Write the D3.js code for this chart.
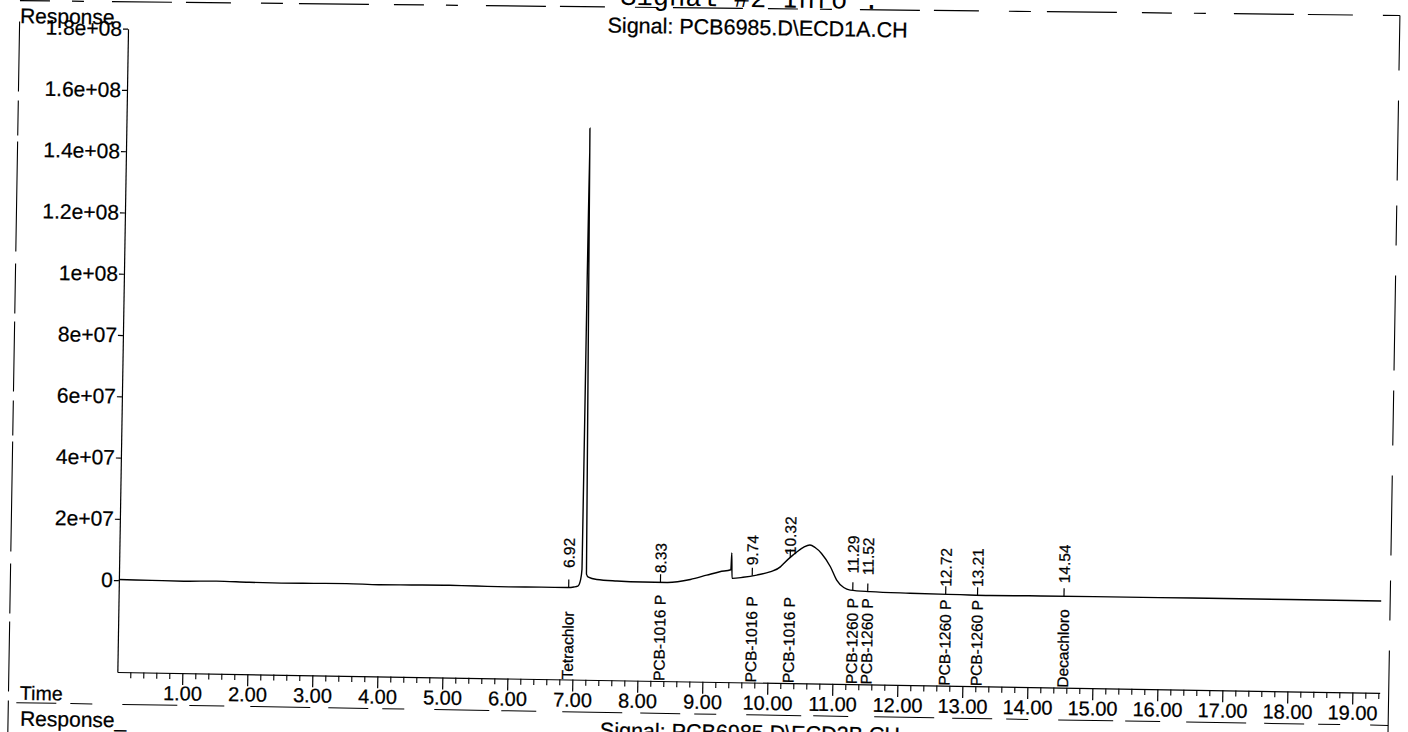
<!DOCTYPE html>
<html><head><meta charset="utf-8">
<script src="https://cdn.jsdelivr.net/npm/d3@7"></script>
<style>
html,body{margin:0;padding:0;background:#fff;overflow:hidden;}
svg{display:block;background:#fff;}
text{font-family:"Liberation Sans", Arial, sans-serif; fill:#000; stroke:#000; stroke-width:0.25px;}
</style></head><body>
<svg id="chart" width="1408" height="732"></svg>
<script>
// ---- data ----
const timeTicks = [1,2,3,4,5,6,7,8,9,10,11,12,13,14,15,16,17,18,19];
const timeTickLabels = ["1.00","2.00","3.00","4.00","5.00","6.00","7.00","8.00","9.00","10.00","11.00","12.00","13.00","14.00","15.00","16.00","17.00","18.00","19.00"];
const responseTicks = [0, 2e7, 4e7, 6e7, 8e7, 1e8, 1.2e8, 1.4e8, 1.6e8, 1.8e8];
const responseTickLabels = ["0","2e+07","4e+07","6e+07","8e+07","1e+08","1.2e+08","1.4e+08","1.6e+08","1.8e+08"];

const sigTime = [0.00,0.50,1.00,1.50,2.00,2.50,3.00,3.50,4.00,4.50,
  5.00,5.50,6.00,6.50,6.90,7.00,7.06,7.10,7.12,7.13,
  7.19,7.22,7.35,7.66,8.06,8.43,8.79,9.04,9.24,9.41,
  9.42,9.43,9.60,9.81,10.01,10.17,10.21,10.36,10.52,10.62,
  10.70,10.80,10.94,11.04,11.15,11.25,11.56,12.17,12.94,13.40,
  14.00,15.00,16.00,17.00,18.00,19.42];
const sigResp = [2e5,1e5,0,2e5,0,-1e5,0,1e5,-1e5,0,
  1e5,0,-1e5,0,0,2e5,5e5,2.5e6,6.0e6,1.50e8,
  4.5e6,3.5e6,2.8e6,2.4e6,2.2e6,2.2e6,3.3e6,4.8e6,6.0e6,6.7e6,
  1.22e7,3.9e6,4.3e6,5.1e6,6.2e6,7.9e6,8.8e6,1.18e7,1.44e7,1.52e7,
  1.44e7,1.25e7,8.2e6,3.9e6,1.5e6,7e5,3e5,0,-2e5,-3e5,
  -2e5,-1e5,-1e5,0,0,0];

const peakTimes = [6.92, 8.33, 9.74, 10.32, 11.29, 11.52, 12.72, 13.21, 14.54];
const peakRtLabels = ["6.92","8.33","9.74","10.32","11.29","11.52","12.72","13.21","14.54"];
const peakNames = ["Tetrachlor","PCB-1016 P","PCB-1016 P","PCB-1016 P","PCB-1260 P","PCB-1260 P","PCB-1260 P","PCB-1260 P","Decachloro"];
const peakLabelLevel = [6.4e6, 5.2e6, 8.3e6, 1.18e7, 6.2e6, 5.7e6, 2.3e6, 2.4e6, 4.1e6];

const titleTop = "Signal #2 Info :";
const titleSignal = "Signal: PCB6985.D\\ECD1A.CH";
const titleSignalNext = "Signal: PCB6985.D\\ECD2B.CH";

// ---- drawing ----
const svg = d3.select("#chart");
const g = svg.append("g").attr("transform", "rotate(0.95,704,366)");

const x = d3.scaleLinear().domain([0, 19.42]).range([122.5, 1385]);
const y = d3.scaleLinear().domain([-3e7, 1.8e8]).range([681.7, 38.3]);

// frame dashes
g.append("line").attr("x1", 14).attr("y1", 12).attr("x2", 1394).attr("y2", 4)
  .attr("stroke", "#000").attr("stroke-width", 1.2)
  .attr("stroke-dasharray", "30,22,12,28,60,14,45,30,22,16,70,25");
g.append("line").attr("x1", 14).attr("y1", 33).attr("x2", 14).attr("y2", 750)
  .attr("stroke", "#000").attr("stroke-width", 1.1)
  .attr("stroke-dasharray", "70,9,35,6,110,12,50,8");
g.append("line").attr("x1", 1394).attr("y1", 4).attr("x2", 1394).attr("y2", 750)
  .attr("stroke", "#000").attr("stroke-width", 1.1)
  .attr("stroke-dasharray", "55,30,80,25,40,30,95,20");
g.append("line").attr("x1", 22).attr("y1", 714).attr("x2", 1394).attr("y2", 714)
  .attr("stroke", "#000").attr("stroke-width", 1)
  .attr("stroke-dasharray", "40,14,22,30,55,12,35,26,60,18");

// texts
g.append("text").attr("x", 744).attr("y", 6.2).attr("text-anchor", "middle")
  .style("font-family", "'Liberation Mono', 'DejaVu Sans Mono', monospace")
  .style("font-size", "27px").style("stroke-width", "0px").text(titleTop);
g.append("text").attr("x", 752).attr("y", 34.1).attr("text-anchor", "middle")
  .style("font-size", "21.5px").text(titleSignal);
g.append("text").attr("x", 14.3).attr("y", 34.3).style("font-size", "21px").text("Response");
g.append("text").attr("x", 25.5).attr("y", 711).style("font-size", "19.5px").text("Time");
g.append("text").attr("x", 26).attr("y", 737).style("font-size", "21px").text("Response_");
g.append("text").attr("x", 756).attr("y", 739.2).attr("text-anchor", "middle")
  .style("font-size", "21.5px").text(titleSignalNext);

// y axis
const yAxis = g.append("g").attr("transform", `translate(${x(0)},0)`)
  .call(d3.axisLeft(y).tickValues(responseTicks)
    .tickFormat((d, i) => responseTickLabels[i])
    .tickSize(5).tickPadding(1).tickSizeOuter(0));
yAxis.selectAll("text").style("font-size", "21px").style("font-family", "'Liberation Sans', Arial, sans-serif").attr("fill", "#000");
yAxis.selectAll("line, path").attr("stroke", "#000").attr("stroke-width", 1.2);

// x axis minor
const minorTicks = d3.range(1, 98).map(i => +(i * 0.2).toFixed(1)).filter(v => Math.abs(v - Math.round(v)) > 1e-6 && v <= 19.42);
g.append("g").attr("transform", `translate(0,${y(-3e7)})`)
  .call(d3.axisBottom(x).tickValues(minorTicks).tickFormat("").tickSize(6).tickSizeOuter(0))
  .call(s => s.select(".domain").remove())
  .selectAll("line").attr("stroke", "#000").attr("stroke-width", 1.1);
// x axis major
const xAxis = g.append("g").attr("transform", `translate(0,${y(-3e7)})`)
  .call(d3.axisBottom(x).tickValues(timeTicks)
    .tickFormat((d, i) => timeTickLabels[i])
    .tickSize(12).tickPadding(1).tickSizeOuter(0));
xAxis.selectAll("text").style("font-size", "20px").style("font-family", "'Liberation Sans', Arial, sans-serif").attr("fill", "#000");
xAxis.selectAll("line, path").attr("stroke", "#000").attr("stroke-width", 1.2);

// signal
const pts = sigTime.map((t, i) => [t, sigResp[i]]);
g.append("path").datum(pts)
  .attr("fill", "none").attr("stroke", "#000").attr("stroke-width", 1.4)
  .attr("d", d3.line().x(d => x(d[0])).y(d => y(d[1])).curve(d3.curveMonotoneX));

function sigAt(t) {
  const i = Math.max(1, Math.min(sigTime.length - 1, d3.bisectRight(sigTime, t)));
  const t0 = sigTime[i - 1], t1 = sigTime[i];
  return sigResp[i - 1] + (sigResp[i] - sigResp[i - 1]) * (t - t0) / (t1 - t0);
}

// peak markers
g.append("g").selectAll("line").data(peakTimes).join("line")
  .attr("x1", d => x(d)).attr("x2", d => x(d))
  .attr("y1", d => y(sigAt(d))).attr("y2", d => y(sigAt(d)) - 8)
  .attr("stroke", "#000").attr("stroke-width", 1.2);

// retention labels
g.append("g").selectAll("text").data(peakTimes).join("text")
  .attr("transform", (d, i) => `translate(${x(d)},${y(peakLabelLevel[i])}) rotate(-90)`)
  .attr("dy", "0.35em").style("font-size", "15.5px")
  .text((d, i) => peakRtLabels[i]);

// compound names
g.append("g").selectAll("text").data(peakTimes).join("text")
  .attr("transform", d => `translate(${x(d)},${y(-3e7)}) rotate(-90)`)
  .attr("dy", "0.35em").style("font-size", "15.5px")
  .text((d, i) => peakNames[i]);
</script>
</body></html>
